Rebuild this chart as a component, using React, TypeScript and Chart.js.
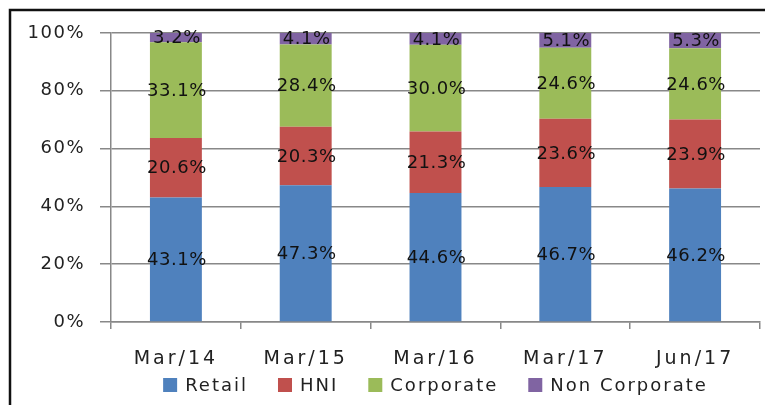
import React, { useEffect, useRef } from "react";
import { Chart, registerables } from "chart.js";

Chart.register(...registerables);

const categories = ["Mar/14", "Mar/15", "Mar/16", "Mar/17", "Jun/17"];
const retail = [43.1, 47.3, 44.6, 46.7, 46.2];
const hni = [20.6, 20.3, 21.3, 23.6, 23.9];
const corporate = [33.1, 28.4, 30.0, 24.6, 24.6];
const nonCorporate = [3.2, 4.1, 4.1, 5.1, 5.3];
const seriesNames = ["Retail", "HNI", "Corporate", "Non Corporate"];
const seriesColors = ["#4F81BD", "#C0504D", "#9BBB59", "#8064A2"];
const yTickStep = 20;
const yMax = 100;

const FONT = "'DejaVu Sans', sans-serif";
const GRID = "#888888";

function wrapLabels(scale: any, spacing: string) {
  if (scale.__wrapped) return;
  const orig = scale.drawLabels;
  scale.drawLabels = function (area: any) {
    const ctx = this.ctx;
    ctx.save();
    (ctx as any).letterSpacing = spacing;
    orig.call(this, area);
    ctx.restore();
  };
  scale.__wrapped = true;
}

const customPlugin = {
  id: "custom",
  beforeDraw(chart: any) {
    wrapLabels(chart.scales.x, "3px");
    wrapLabels(chart.scales.y, "1.5px");
  },
  afterDatasetsDraw(chart: any) {
    const ctx = chart.ctx;
    ctx.save();
    (ctx as any).letterSpacing = "0.5px";
    ctx.font = `18px ${FONT}`;
    ctx.fillStyle = "#111";
    ctx.textAlign = "center";
    ctx.textBaseline = "middle";
    chart.data.datasets.forEach((ds: any, i: number) => {
      const meta = chart.getDatasetMeta(i);
      meta.data.forEach((el: any, j: number) => {
        const v = ds.data[j];
        const y = (el.y + el.base) / 2 + 1;
        ctx.fillText(v.toFixed(1) + "%", el.x + 1, y);
      });
    });
    ctx.restore();
  },
  afterDraw(chart: any) {
    const ctx = chart.ctx;
    const area = chart.chartArea;
    // outer frame (top & left visible)
    ctx.save();
    ctx.strokeStyle = "#111";
    ctx.lineWidth = 2.5;
    ctx.beginPath();
    ctx.moveTo(10, 405);
    ctx.lineTo(10, 10);
    ctx.lineTo(765, 10);
    ctx.stroke();
    // legend
    ctx.font = `18px ${FONT}`;
    (ctx as any).letterSpacing = "2px";
    const box = 14;
    const gapBox = 8;
    const gapItem = 30;
    const widths = seriesNames.map((n) => ctx.measureText(n).width);
    const total =
      widths.reduce((a, b) => a + b, 0) +
      seriesNames.length * (box + gapBox) +
      (seriesNames.length - 1) * gapItem;
    let x = (area.left + area.right) / 2 - total / 2;
    const cy = 385;
    ctx.textBaseline = "middle";
    ctx.textAlign = "left";
    seriesNames.forEach((n, i) => {
      ctx.fillStyle = seriesColors[i];
      ctx.fillRect(x, cy - box / 2, box, box);
      x += box + gapBox;
      ctx.fillStyle = "#222";
      ctx.fillText(n, x, cy + 1);
      x += widths[i] + gapItem;
    });
    ctx.restore();
  },
};

export default function App() {
  const ref = useRef<HTMLCanvasElement | null>(null);
  useEffect(() => {
    if (!ref.current) return;
    const seriesData = [retail, hni, corporate, nonCorporate];
    const chart = new Chart(ref.current, {
      type: "bar",
      data: {
        labels: categories,
        datasets: seriesNames.map((name, i) => ({
          label: name,
          data: seriesData[i],
          backgroundColor: seriesColors[i],
          borderWidth: 0,
          barPercentage: 0.4,
          categoryPercentage: 1,
        })),
      },
      options: {
        animation: false,
        responsive: false,
        devicePixelRatio: 1,
        layout: { padding: { top: 33, right: 5, bottom: 33, left: 0 } },
        plugins: {
          legend: { display: false },
          tooltip: { enabled: false },
        },
        scales: {
          x: {
            stacked: true,
            grid: {
              display: true,
              drawOnChartArea: false,
              drawTicks: true,
              tickLength: 7,
              color: GRID,
              lineWidth: 1.5,
            },
            border: { display: true, color: GRID, width: 1.5 },
            ticks: {
              font: { family: FONT, size: 19 },
              color: "#222",
              padding: 19,
              maxRotation: 0,
            },
            afterFit: (s: any) => {
              s.height = 50;
            },
          },
          y: {
            stacked: true,
            min: 0,
            max: yMax,
            grid: {
              color: GRID,
              lineWidth: 1.5,
              drawTicks: true,
              tickLength: 11,
            },
            border: { display: true, color: GRID, width: 1.5 },
            ticks: {
              stepSize: yTickStep,
              font: { family: FONT, size: 18 },
              color: "#222",
              padding: 15,
              callback: (v: any) => v + "%",
            },
            afterFit: (s: any) => {
              s.width = 111;
            },
          },
        },
      },
      plugins: [customPlugin],
    });
    return () => chart.destroy();
  }, []);
  return (
    <div style={{ position: "absolute", left: 0, top: 0, width: 765, height: 405, background: "#fff" }}>
      <canvas ref={ref} width={765} height={405} />
    </div>
  );
}
